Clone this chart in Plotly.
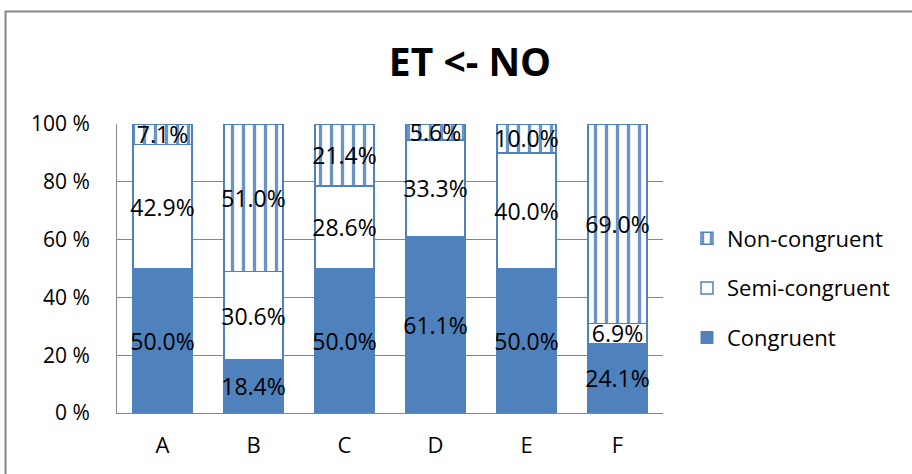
import plotly.graph_objects as go

categories = ["A", "B", "C", "D", "E", "F"]
congruent = [50.0, 18.4, 50.0, 61.1, 50.0, 24.1]
semi_congruent = [42.9, 30.6, 28.6, 33.3, 40.0, 6.9]
non_congruent = [7.1, 51.0, 21.4, 5.6, 10.0, 69.0]
y_ticks = [0, 20, 40, 60, 80, 100]
y_tick_labels = [f"{v} %" for v in y_ticks]

BLUE = "#4F81BD"
GRID = "#868686"
FONT = "Open Sans"

W, H = 912, 474
L, R, T, B = 117, 663, 124, 413

def px_to_paper_x(px):
    return (px - L) / (R - L)

def px_to_paper_y(py):
    return (B - py) / (B - T)

fig = go.Figure()
common = dict(
    texttemplate="%{y:.1f}%",
    textposition="inside",
    insidetextanchor="middle",
    textangle=0,
    constraintext="none",
    textfont=dict(family=FONT, size=23, color="black"),
    hoverinfo="skip",
)
fig.add_trace(go.Bar(
    x=categories, y=congruent, name="Congruent", legendgroup="c", legendrank=3,
    marker=dict(color=BLUE, line=dict(color=BLUE, width=1)), **common))
fig.add_trace(go.Bar(
    x=categories, y=semi_congruent, name="Semi-congruent", legendgroup="s", legendrank=2,
    marker=dict(color="white", line=dict(color=BLUE, width=1.5)), **common))
fig.add_trace(go.Bar(
    x=categories, y=non_congruent, name="Non-congruent", legendgroup="n", legendrank=1,
    marker=dict(color="white", line=dict(color=BLUE, width=1.5),
                pattern=dict(shape="|", fgcolor=BLUE, fgopacity=0.85, bgcolor="white",
                             size=11, solidity=0.3, fillmode="overlay")),
    **common))

fig.update_layout(
    width=W, height=H,
    margin=dict(l=L, r=W - R, t=T, b=H - B, pad=0),
    paper_bgcolor="white", plot_bgcolor="white",
    barmode="stack", bargap=0.35,
    font=dict(family=FONT, color="black"),
    title=dict(text="<b>ET <- NO</b>", font=dict(family=FONT, size=39, color="black"),
               x=470 / W, xanchor="center", xref="container",
               y=1 - 62 / H, yanchor="middle", yref="container"),
    showlegend=True,
    legend=dict(traceorder="grouped", tracegroupgap=18,
                x=px_to_paper_x(687), xanchor="left",
                y=px_to_paper_y(288), yanchor="middle",
                font=dict(family=FONT, size=22, color="black"),
                bgcolor="rgba(0,0,0,0)", itemclick=False),
    xaxis=dict(showline=True, linecolor=GRID, linewidth=1, ticks="",
               tickfont=dict(family=FONT, size=22, color="black"),
               ticklabelstandoff=13, fixedrange=True),
    yaxis=dict(range=[0, 100], tickmode="array", tickvals=y_ticks,
               ticktext=y_tick_labels,
               showgrid=True, gridcolor=GRID, gridwidth=1,
               showline=True, linecolor=GRID, linewidth=1, ticks="",
               tickfont=dict(family=FONT, size=21, color="black"),
               ticklabelstandoff=22, zeroline=False, fixedrange=True),
    shapes=[dict(type="rect", xref="paper", yref="paper",
                 x0=px_to_paper_x(5.5), x1=px_to_paper_x(1000),
                 y0=px_to_paper_y(600), y1=px_to_paper_y(11.5),
                 line=dict(color=GRID, width=2), fillcolor="rgba(0,0,0,0)",
                 layer="below")],
)

fig.write_html("out.html")
